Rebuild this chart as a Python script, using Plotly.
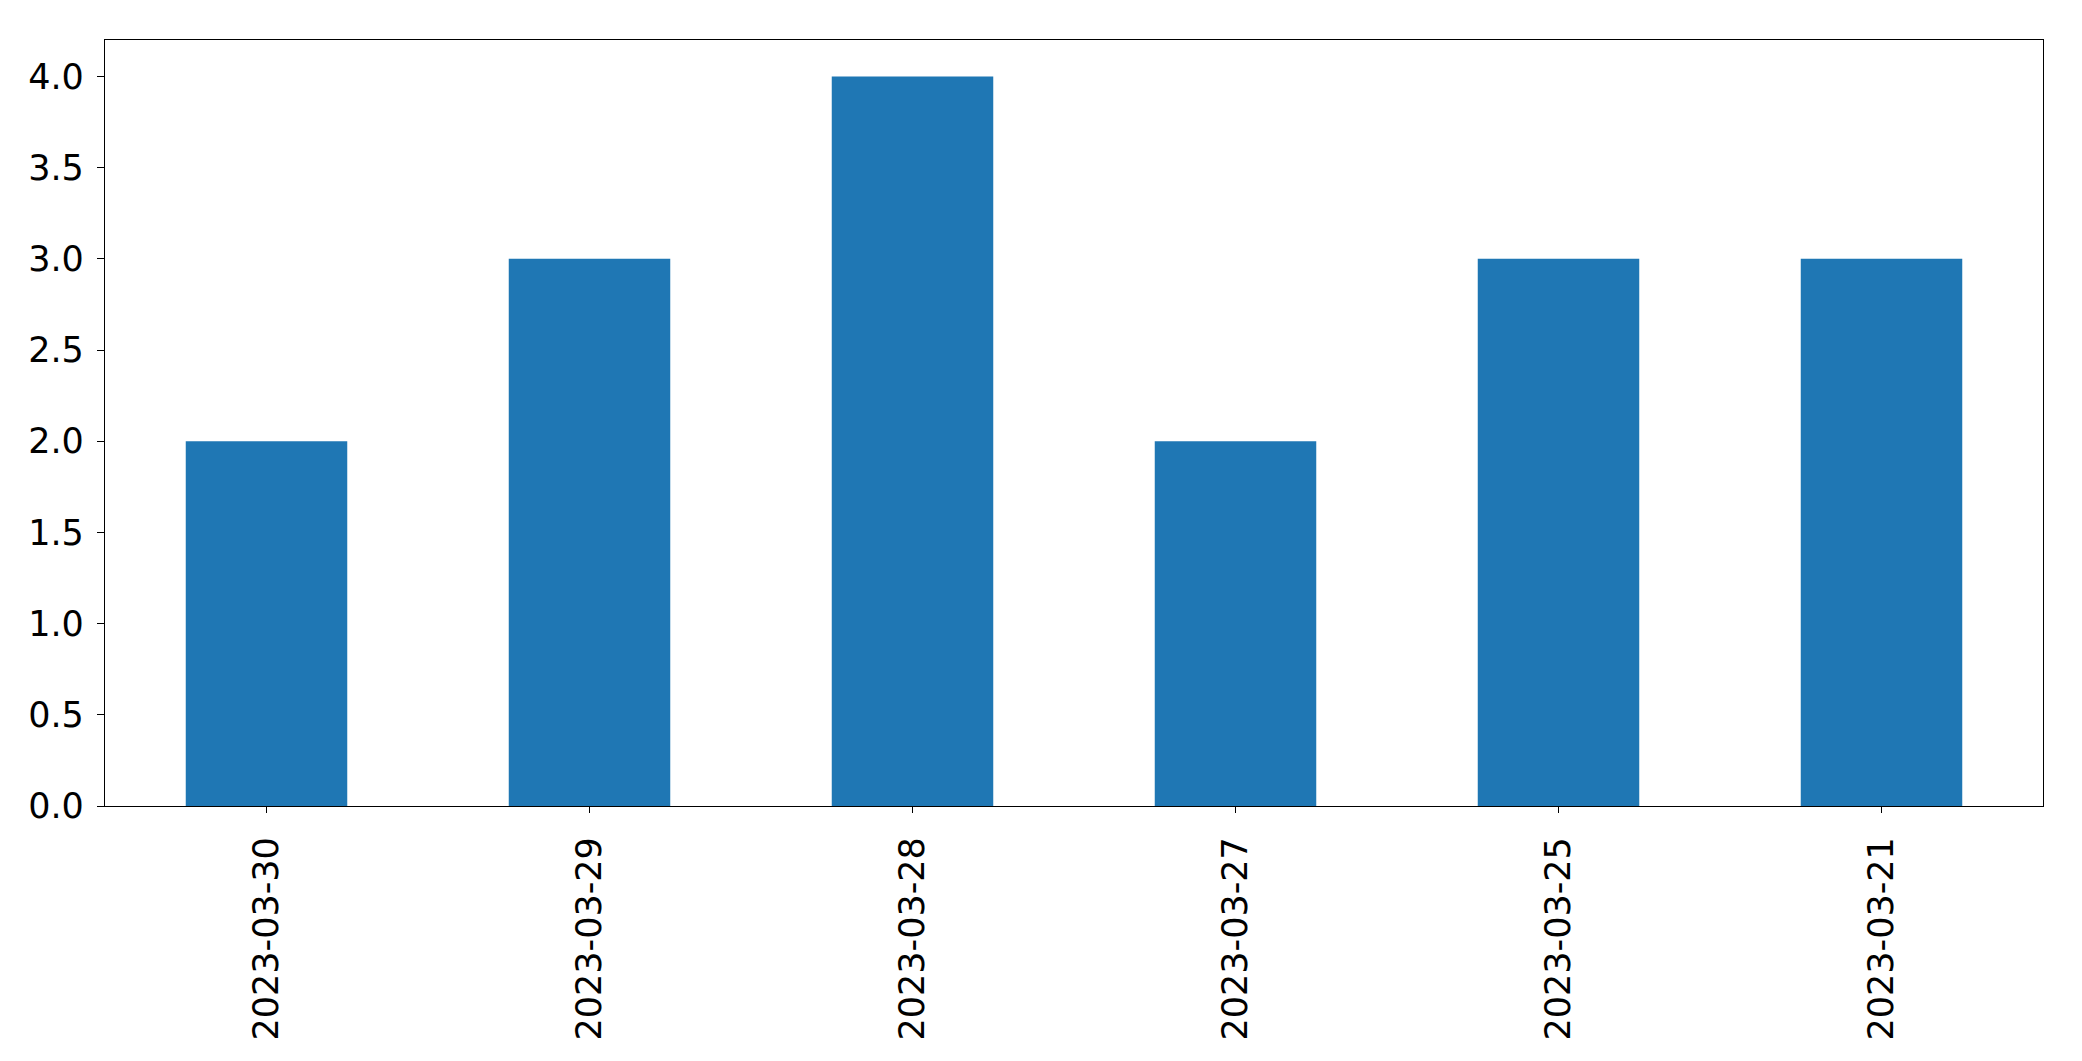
import plotly.graph_objects as go

categories = ["2023-03-30", "2023-03-29", "2023-03-28", "2023-03-27", "2023-03-25", "2023-03-21"]
values = [2, 3, 4, 2, 3, 3]
y_ticks = [0.0, 0.5, 1.0, 1.5, 2.0, 2.5, 3.0, 3.5, 4.0]
y_tick_labels = ["0.0", "0.5", "1.0", "1.5", "2.0", "2.5", "3.0", "3.5", "4.0"]

fig = go.Figure(go.Bar(x=categories, y=values, width=0.5, marker=dict(color="#1f77b4", line=dict(width=0))))

# the page body has an 8px margin, so the figure is shifted by (8, 8)
fig.update_layout(
    width=2066, height=1045,
    margin=dict(l=97, r=31, t=32, b=244),
    paper_bgcolor="white", plot_bgcolor="white",
    font=dict(family="DejaVu Sans", size=35, color="black"),
    showlegend=False,
)
fig.update_xaxes(
    type="category", range=[-0.5, 5.5], tickangle=-90,
    showline=True, mirror=True, linecolor="black", linewidth=1.3,
    ticks="outside", ticklen=6, tickwidth=1.3, tickcolor="black",
    showgrid=False, zeroline=False, ticklabelstandoff=10,
)
fig.update_yaxes(
    range=[0, 4.2], tickvals=y_ticks, ticktext=y_tick_labels,
    showline=True, mirror=True, linecolor="black", linewidth=1.3,
    ticks="outside", ticklen=7, tickwidth=1.3, tickcolor="black",
    showgrid=False, zeroline=False, ticklabelstandoff=6,
)
fig.write_html("out.html")
